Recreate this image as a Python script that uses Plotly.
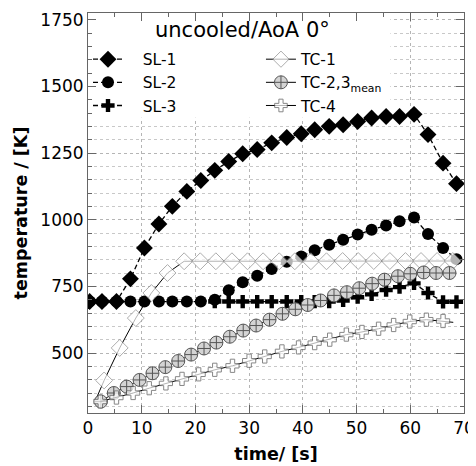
import plotly.graph_objects as go

# ---------------- data ----------------
sl_time = [0.3, 2.6, 5.3, 7.9, 10.5, 13.2, 15.7, 18.4, 21.0, 23.6, 26.2, 28.8, 31.5,
           34.2, 37.0, 39.7, 42.2, 44.9, 47.5, 50.2, 52.8, 55.5, 58.0, 60.7, 63.3, 66.1, 68.6]
sl1_temp = [693, 693, 693, 778, 894, 984, 1050, 1106, 1147, 1185, 1218, 1247, 1263,
            1288, 1308, 1322, 1337, 1350, 1356, 1368, 1381, 1387, 1387, 1395, 1319, 1212, 1135]
sl2_temp = [693, 693, 693, 693, 693, 693, 693, 693, 693, 700, 735, 765, 790,
            815, 842, 862, 885, 906, 925, 944, 962, 978, 994, 1008, 946, 894, 852]
sl3_time = [23.6, 26.2, 28.8, 31.5, 34.2, 37.0, 39.7, 42.2, 44.9, 47.5, 50.2, 52.8,
            55.5, 58.0, 60.7, 63.3, 66.1, 68.6]
sl3_temp = [693, 693, 693, 693, 693, 693, 693, 693, 693, 697, 709, 720,
            736, 747, 761, 725, 692, 692]

tc1_time = [1.3, 3.0, 5.9, 8.9, 11.8, 14.8, 17.9, 20.9, 23.8, 26.8, 29.7, 32.6, 35.6,
            38.5, 41.5, 44.4, 47.4, 50.3, 53.2, 56.2, 59.1, 62.0, 65.0, 67.9]
tc1_temp = [318, 397, 519, 631, 725, 800, 844, 844, 844, 844, 844, 844, 844,
            844, 844, 844, 845, 845, 845, 845, 845, 845, 845, 845]

tc23_time = [2.4, 4.8, 7.2, 9.6, 12.0, 14.4, 16.8, 19.2, 21.6, 23.9, 26.4, 28.9, 31.3, 33.8,
             36.2, 38.6, 40.9, 43.3, 45.8, 48.2, 50.5, 52.9, 55.2, 57.7, 60.0, 62.5, 64.8, 67.3]
tc23_temp = [318, 350, 374, 399, 424, 447, 470, 494, 517, 539, 561, 584, 603, 625,
             647, 664, 680, 697, 716, 728, 743, 760, 775, 788, 797, 802, 800, 800]

tc4_time = [2.3, 5.3, 8.4, 11.4, 14.5, 17.5, 20.6, 23.6, 26.9, 30.0, 32.9, 36.1, 39.2,
            42.2, 45.0, 48.1, 51.0, 54.1, 56.9, 59.9, 63.0, 66.1, 68.0]
tc4_temp = [318, 333, 350, 368, 386, 403, 420, 437, 452, 471, 487, 506, 521,
            537, 550, 569, 579, 591, 605, 618, 625, 620, 615]

x_ticks = [0, 10, 20, 30, 40, 50, 60, 70]
y_ticks = [500, 750, 1000, 1250, 1500, 1750]

FONT = "DejaVu Sans"
NB = "\u00a0" * 3

fig = go.Figure()

dash = "5px,3px"
fig.add_trace(go.Scatter(x=sl_time, y=sl1_temp, name=NB + "SL-1", mode="lines+markers",
                         line=dict(color="black", width=1.3, dash=dash),
                         marker=dict(symbol="diamond", size=13, color="black"),
                         legend="legend"))
fig.add_trace(go.Scatter(x=sl_time, y=sl2_temp, name=NB + "SL-2", mode="lines+markers",
                         line=dict(color="black", width=1.3, dash=dash),
                         marker=dict(symbol="circle", size=12, color="black"),
                         legend="legend"))
fig.add_trace(go.Scatter(x=sl3_time, y=sl3_temp, name=NB + "SL-3", mode="lines+markers",
                         line=dict(color="black", width=1.3, dash=dash),
                         marker=dict(symbol="cross", size=11, color="black"),
                         legend="legend"))

tc1_sizes = [0] + [13] * (len(tc1_time) - 1)
fig.add_trace(go.Scatter(x=tc1_time, y=tc1_temp, name="TC-1", mode="lines+markers",
                         line=dict(color="black", width=1),
                         marker=dict(symbol="diamond", size=tc1_sizes, color="white",
                                     line=dict(color="#8c8c8c", width=1)),
                         legend="legend2"))
fig.add_trace(go.Scatter(x=tc23_time, y=tc23_temp, name="TC-2,3<sub>mean</sub>",
                         mode="lines+markers",
                         line=dict(color="black", width=1),
                         marker=dict(symbol="circle-cross", size=13, color="#d4d4d4",
                                     line=dict(color="#555555", width=1)),
                         legend="legend2"))
tc4_sizes = [11] * (len(tc4_time) - 1) + [0]
fig.add_trace(go.Scatter(x=tc4_time, y=tc4_temp, name="TC-4", mode="lines+markers",
                         line=dict(color="black", width=1),
                         marker=dict(symbol="cross", size=tc4_sizes, color="white",
                                     line=dict(color="#555555", width=1)),
                         legend="legend2"))

# white panel behind legend/title (covers the grid there, below the traces)
fig.add_shape(type="rect", xref="x", yref="y", x0=0, x1=56.3, y0=1382, y1=1775,
              fillcolor="white", line=dict(width=0), layer="between")

fig.add_annotation(text="uncooled/AoA 0°", xref="paper", yref="paper", x=0.412, y=0.958,
                   showarrow=False, font=dict(family=FONT, size=21, color="black"),
                   xanchor="center", yanchor="middle")

axis_common = dict(showline=True, linecolor="#666666", linewidth=1, mirror="allticks",
                   ticks="inside", ticklen=8, tickcolor="#666666", automargin=False,
                   tickfont=dict(family=FONT, size=17, color="black"),
                   gridcolor="#b5b5b5", griddash="dot", gridwidth=1, zeroline=False)

fig.update_xaxes(range=[0, 70], tickvals=x_ticks, showgrid=True,
                 minor=dict(dtick=5, ticks="inside", ticklen=4, tickcolor="#666666", showgrid=False),
                 title=dict(text="time/ [s]",
                            font=dict(family=FONT, size=17.5, color="black", weight="bold"),
                            standoff=10),
                 **axis_common)
fig.update_yaxes(range=[275, 1775], tickvals=y_ticks, showgrid=True,
                 minor=dict(dtick=50, tick0=0, ticks="inside", ticklen=4, tickcolor="#666666",
                            showgrid=True, gridcolor="#c8c8c8", griddash="dot", gridwidth=1),
                 title=dict(text="temperature / [K]",
                            font=dict(family=FONT, size=17.5, color="black", weight="bold"),
                            standoff=8),
                 **axis_common)

legend_common = dict(bgcolor="rgba(255,255,255,0)", borderwidth=0,
                     font=dict(family=FONT, size=15.5, color="black"),
                     xanchor="left", yanchor="top", tracegroupgap=0,
                     itemsizing="trace")
# the page body adds an 8 px margin, so the figure is 8 px smaller and margins shifted
fig.update_layout(
    width=468, height=458, autosize=False,
    margin=dict(l=80, r=12, t=5, b=53, autoexpand=False),
    paper_bgcolor="white", plot_bgcolor="white",
    showlegend=True,
    legend=dict(x=0.0, y=0.926, **legend_common),
    legend2=dict(x=0.46, y=0.926, **legend_common),
)

fig.write_html("out.html")
